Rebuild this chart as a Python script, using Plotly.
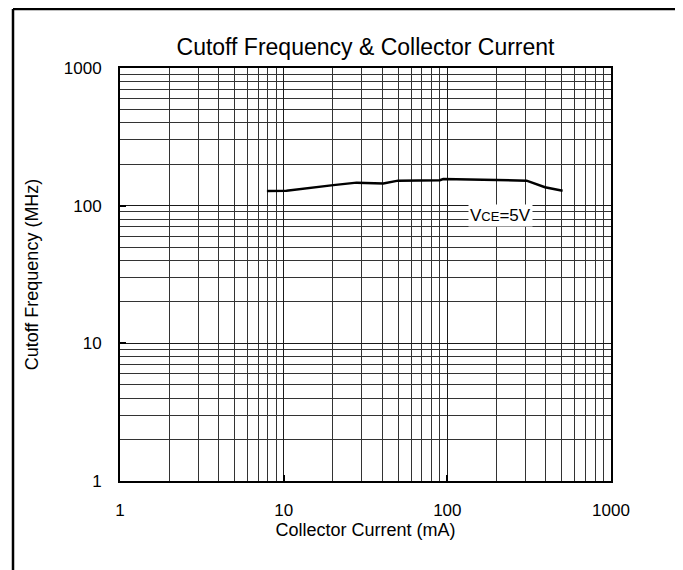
import numpy as np
import plotly.graph_objects as go

# Data
current_ma = [7.9, 10.4, 20.1, 27.9, 40.6, 50.0, 90.0, 94.4, 305.0, 395.0, 506.0]
ft_mhz = [128, 128.5, 141, 147, 145, 152, 153, 156, 152, 136, 128.5]

decade_vals = [1, 10, 100, 1000]
decade_labels = ["1", "10", "100", "1000"]
minor_vals = [m * d for d in [1, 10, 100] for m in range(2, 10)]

title_text = "Cutoff Frequency & Collector Current"
x_title = "Collector Current (mA)"
y_title = "Cutoff Frequency (MHz)"
note_text = "V<span style='font-size:13px'>CE</span>=5V"
note_pos = (212, 85.5)

FONT = "Liberation Sans, Arial, sans-serif"
W, H = 683, 570
# page has an 8px body margin, so figure coords = screenshot coords - 8
L, R, T, B = 112, 603, 60, 473

fig = go.Figure()
fig.add_trace(go.Scatter(x=current_ma, y=ft_mhz, mode="lines",
                         line=dict(color="black", width=2.5), showlegend=False,
                         hoverinfo="skip"))

axis_common = dict(
    type="log", tickmode="array", tickvals=decade_vals, ticktext=decade_labels,
    showgrid=True, gridcolor="#1a1a1a", gridwidth=1,
    showline=True, linecolor="black", linewidth=2, mirror=True,
    ticks="inside", ticklen=6, tickwidth=2, tickcolor="black",
    tickfont=dict(family=FONT, size=17, color="black"),
    minor=dict(tickmode="array", tickvals=minor_vals, showgrid=True,
               gridcolor="#333333", gridwidth=1, ticks=""),
    zeroline=False,
)

fig.update_layout(
    width=W, height=H,
    margin=dict(l=L, r=W - R, t=T, b=H - B),
    paper_bgcolor="white", plot_bgcolor="white",
    font=dict(family=FONT, color="black"),
    xaxis=dict(axis_common, range=[0, 3], ticklabelstandoff=13,
               title=dict(text=x_title, font=dict(family=FONT, size=18), standoff=1)),
    yaxis=dict(axis_common, range=[0, 3], ticklabelstandoff=13,
               title=dict(text=y_title, font=dict(family=FONT, size=18), standoff=20)),
    title=dict(text=title_text, x=(L + R) / 2 / W, xanchor="center",
               y=1 - 39 / H, yanchor="middle",
               font=dict(family=FONT, size=23, color="black")),
)

fig.add_annotation(x=np.log10(note_pos[0]), y=np.log10(note_pos[1]), xref="x", yref="y",
                   text=note_text, showarrow=False, bgcolor="white",
                   font=dict(family=FONT, size=17, color="black"), borderpad=1)

# outer frame
def px_x(p):
    return (p - L) / (R - L)

def px_y(p):
    return (B - p) / (B - T)

for x0, y0, x1, y1 in [(5, 1, 5, 575), (5, 1, 670, 1), (670, 1, 670, 575)]:
    fig.add_shape(type="line", xref="paper", yref="paper",
                  x0=px_x(x0), y0=px_y(y0), x1=px_x(x1), y1=px_y(y1),
                  line=dict(color="black", width=2.5))

fig.write_html("out.html")
